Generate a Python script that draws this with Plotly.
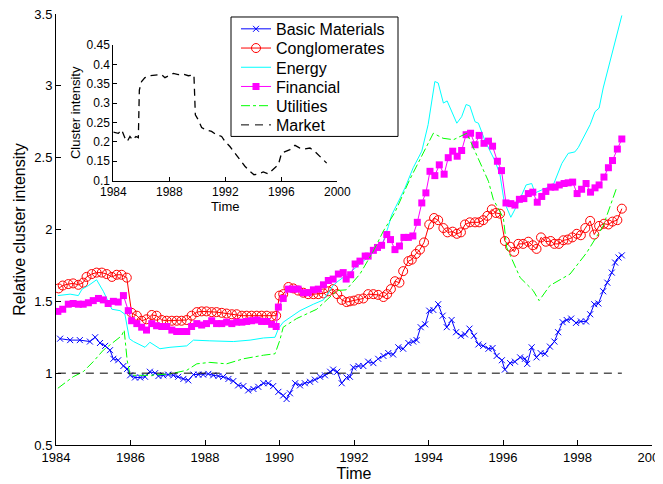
import plotly.graph_objects as go

# ---------------- data ----------------
basic_t = [1984.11, 1984.38, 1984.64, 1984.91, 1985.05, 1985.18, 1985.32, 1985.45, 1985.54, 1985.67,
           1985.81, 1985.91, 1985.99, 1986.12, 1986.26, 1986.39, 1986.52, 1986.66, 1986.75, 1986.88,
           1987.01, 1987.15, 1987.28, 1987.42, 1987.55, 1987.69, 1987.82, 1987.95, 1988.09, 1988.22,
           1988.36, 1988.49, 1988.63, 1988.76, 1988.89, 1989.03, 1989.16, 1989.30, 1989.43, 1989.57,
           1989.70, 1989.83, 1989.97, 1990.10, 1990.19, 1990.28, 1990.42, 1990.55, 1990.68, 1990.82,
           1990.95, 1991.09, 1991.22, 1991.36, 1991.44, 1991.55, 1991.67, 1991.80, 1991.89, 1991.98,
           1992.12, 1992.25, 1992.38, 1992.52, 1992.65, 1992.79, 1992.92, 1993.05, 1993.19, 1993.32,
           1993.46, 1993.59, 1993.68, 1993.79, 1993.91, 1994.02, 1994.13, 1994.26, 1994.38, 1994.49,
           1994.62, 1994.74, 1994.87, 1994.98, 1995.10, 1995.22, 1995.34, 1995.47, 1995.61, 1995.72,
           1995.83, 1995.97, 1996.05, 1996.19, 1996.32, 1996.46, 1996.59, 1996.65, 1996.77, 1996.90,
           1997.01, 1997.13, 1997.26, 1997.38, 1997.48, 1997.60, 1997.71, 1997.83, 1997.96, 1998.09,
           1998.23, 1998.34, 1998.45, 1998.56, 1998.69, 1998.80, 1998.92, 1999.01, 1999.10, 1999.19]
basic_v = [1.24, 1.23, 1.23, 1.22, 1.25, 1.21, 1.19, 1.16, 1.10, 1.09,
           1.05, 1.03, 0.985, 0.97, 0.97, 0.975, 1.01, 1.00, 0.98, 0.985,
           0.99, 0.985, 0.975, 0.96, 0.95, 0.99, 0.99, 0.99, 0.995, 0.985,
           0.98, 0.975, 0.96, 0.945, 0.915, 0.91, 0.88, 0.89, 0.905, 0.93,
           0.93, 0.91, 0.87, 0.845, 0.82, 0.86, 0.93, 0.915, 0.93, 0.94,
           0.955, 0.975, 0.985, 1.01, 1.025, 1.01, 0.93, 0.97, 0.975, 1.04,
           1.05, 1.05, 1.08, 1.07, 1.10, 1.12, 1.14, 1.13, 1.18, 1.17,
           1.21, 1.22, 1.23, 1.32, 1.34, 1.435, 1.44, 1.48, 1.40, 1.32,
           1.37, 1.285, 1.26, 1.27, 1.31, 1.26, 1.20, 1.19, 1.17, 1.175,
           1.12, 1.09, 1.025, 1.07, 1.08, 1.11, 1.10, 1.065, 1.18, 1.11,
           1.14, 1.135, 1.185, 1.22, 1.285, 1.355, 1.37, 1.38, 1.35, 1.36,
           1.36, 1.41, 1.48, 1.485, 1.57, 1.63, 1.70, 1.77, 1.805, 1.82]

congl_t = [1984.07, 1984.18, 1984.33, 1984.46, 1984.60, 1984.73, 1984.82, 1984.96, 1985.09, 1985.23,
           1985.36, 1985.50, 1985.63, 1985.76, 1985.90, 1986.03, 1986.17, 1986.30, 1986.43, 1986.57,
           1986.70, 1986.84, 1986.97, 1987.11, 1987.24, 1987.37, 1987.51, 1987.64, 1987.78, 1987.91,
           1988.04, 1988.18, 1988.31, 1988.45, 1988.58, 1988.72, 1988.85, 1988.99, 1989.12, 1989.25,
           1989.39, 1989.52, 1989.66, 1989.79, 1989.91, 1990.00, 1990.10, 1990.24, 1990.37, 1990.50,
           1990.64, 1990.77, 1990.91, 1991.04, 1991.18, 1991.31, 1991.44, 1991.55, 1991.67, 1991.80,
           1991.89, 1992.00, 1992.12, 1992.25, 1992.38, 1992.52, 1992.65, 1992.79, 1992.89, 1992.99,
           1993.10, 1993.22, 1993.32, 1993.46, 1993.55, 1993.66, 1993.77, 1993.88, 1994.02, 1994.15,
           1994.26, 1994.40, 1994.51, 1994.65, 1994.76, 1994.87, 1994.98, 1995.11, 1995.25, 1995.36,
           1995.47, 1995.58, 1995.70, 1995.81, 1995.92, 1996.05, 1996.19, 1996.30, 1996.41, 1996.54,
           1996.68, 1996.80, 1996.90, 1997.02, 1997.15, 1997.28, 1997.38, 1997.50, 1997.62, 1997.74,
           1997.86, 1997.98, 1998.09, 1998.21, 1998.34, 1998.45, 1998.58, 1998.71, 1998.83, 1998.94,
           1999.07, 1999.19]
congl_v = [1.59, 1.61, 1.62, 1.625, 1.615, 1.63, 1.67, 1.69, 1.70, 1.70,
           1.69, 1.67, 1.685, 1.685, 1.665, 1.42, 1.40, 1.365, 1.375, 1.405,
           1.40, 1.37, 1.365, 1.365, 1.365, 1.365, 1.37, 1.40, 1.425, 1.43,
           1.43, 1.425, 1.425, 1.42, 1.415, 1.41, 1.41, 1.40, 1.40, 1.40,
           1.40, 1.40, 1.40, 1.395, 1.40, 1.54, 1.55, 1.60, 1.59, 1.575,
           1.56, 1.55, 1.55, 1.55, 1.555, 1.57, 1.585, 1.55, 1.51, 1.495,
           1.50, 1.505, 1.515, 1.52, 1.55, 1.55, 1.545, 1.53, 1.55, 1.585,
           1.64, 1.63, 1.71, 1.78, 1.79, 1.83, 1.86, 1.91, 2.035, 2.08,
           2.065, 2.01, 1.98, 1.985, 1.97, 1.98, 2.035, 2.05, 2.05, 2.05,
           2.065, 2.095, 2.14, 2.115, 2.11, 1.92, 1.88, 1.845, 1.90, 1.90,
           1.915, 1.89, 1.865, 1.945, 1.915, 1.92, 1.90, 1.90, 1.925, 1.93,
           1.945, 1.97, 1.96, 2.01, 2.06, 1.965, 2.025, 2.04, 2.035, 2.055,
           2.065, 2.145]

energy_t = [1984.05, 1984.38, 1984.60, 1984.70, 1984.87, 1985.09, 1985.27, 1985.50, 1985.72, 1985.85,
            1985.97, 1986.08, 1986.39, 1986.52, 1986.79, 1987.06, 1987.51, 1987.69, 1988.13, 1988.49,
            1988.76, 1989.21, 1989.57, 1989.88, 1989.97, 1990.10, 1990.37, 1990.55, 1990.91, 1991.18,
            1991.44, 1991.57, 1991.89, 1992.16, 1992.48, 1992.75, 1992.92, 1993.01, 1993.24, 1993.37,
            1993.59, 1993.82, 1993.99, 1994.17, 1994.26, 1994.40, 1994.50, 1994.76, 1994.89, 1995.01,
            1995.11, 1995.25, 1995.34, 1995.52, 1995.79, 1995.92, 1996.03, 1996.21, 1996.41, 1996.62,
            1996.77, 1996.86, 1997.35, 1997.58, 1997.75, 1997.93, 1998.02, 1998.34, 1998.47, 1998.58,
            1998.69, 1998.87, 1999.05, 1999.19]
energy_v = [1.54, 1.55, 1.54, 1.585, 1.61, 1.65, 1.57, 1.445, 1.435, 1.41,
            1.24, 1.22, 1.18, 1.215, 1.17, 1.18, 1.19, 1.23, 1.225, 1.22,
            1.22, 1.23, 1.245, 1.25, 1.31, 1.355, 1.40, 1.435, 1.48, 1.51,
            1.61, 1.64, 1.70, 1.76, 1.83, 1.89, 2.02, 2.10, 2.22, 2.29,
            2.43, 2.545, 2.73, 3.03, 3.02, 2.88, 2.895, 2.74, 2.785, 2.87,
            2.86, 2.75, 2.74, 2.615, 2.475, 2.38, 2.195, 2.085, 2.185, 2.31,
            2.32, 2.255, 2.31, 2.46, 2.53, 2.54, 2.57, 2.73, 2.82, 2.845,
            2.985, 3.17, 3.34, 3.49]

fin_t = [1984.05, 1984.18, 1984.33, 1984.46, 1984.60, 1984.73, 1984.87, 1985.00, 1985.14, 1985.27,
         1985.40, 1985.54, 1985.67, 1985.81, 1985.94, 1986.03, 1986.17, 1986.30, 1986.43, 1986.57,
         1986.70, 1986.84, 1986.97, 1987.11, 1987.24, 1987.37, 1987.51, 1987.64, 1987.78, 1987.91,
         1988.04, 1988.18, 1988.31, 1988.45, 1988.58, 1988.72, 1988.85, 1988.99, 1989.12, 1989.25,
         1989.39, 1989.52, 1989.66, 1989.79, 1989.91, 1989.97, 1990.10, 1990.24, 1990.37, 1990.50,
         1990.64, 1990.77, 1990.91, 1991.04, 1991.18, 1991.31, 1991.44, 1991.58, 1991.71, 1991.79,
         1991.91, 1992.03, 1992.16, 1992.30, 1992.38, 1992.52, 1992.63, 1992.74, 1992.88, 1992.98,
         1993.10, 1993.22, 1993.34, 1993.46, 1993.58, 1993.70, 1993.82, 1993.93, 1994.04, 1994.17,
         1994.29, 1994.42, 1994.53, 1994.65, 1994.77, 1994.89, 1995.01, 1995.13, 1995.25, 1995.36,
         1995.49, 1995.61, 1995.72, 1995.85, 1995.96, 1996.08, 1996.21, 1996.32, 1996.44, 1996.56,
         1996.68, 1996.80, 1996.92, 1997.04, 1997.15, 1997.28, 1997.40, 1997.51, 1997.64, 1997.75,
         1997.87, 1997.99, 1998.11, 1998.23, 1998.35, 1998.47, 1998.58, 1998.71, 1998.83, 1998.94,
         1999.07, 1999.19]
fin_v = [1.43, 1.445, 1.48, 1.485, 1.48, 1.48, 1.49, 1.505, 1.52, 1.51,
         1.485, 1.50, 1.495, 1.54, 1.435, 1.365, 1.345, 1.32, 1.30, 1.345,
         1.33, 1.325, 1.325, 1.30, 1.29, 1.29, 1.29, 1.325, 1.345, 1.335,
         1.345, 1.365, 1.345, 1.345, 1.355, 1.345, 1.355, 1.355, 1.36, 1.365,
         1.37, 1.36, 1.36, 1.34, 1.325, 1.46, 1.52, 1.585, 1.585, 1.585,
         1.56, 1.56, 1.58, 1.585, 1.615, 1.645, 1.655, 1.69, 1.70, 1.655,
         1.685, 1.76, 1.78, 1.815, 1.815, 1.855, 1.875, 1.89, 1.965, 1.93,
         1.86, 1.885, 1.945, 1.945, 1.955, 2.05, 2.185, 2.255, 2.405, 2.375,
         2.45, 2.385, 2.50, 2.545, 2.51, 2.55, 2.66, 2.67, 2.59, 2.655,
         2.60, 2.615, 2.58, 2.475, 2.41, 2.185, 2.18, 2.17, 2.21, 2.215,
         2.25, 2.26, 2.19, 2.23, 2.265, 2.295, 2.295, 2.31, 2.32, 2.325,
         2.33, 2.25, 2.28, 2.32, 2.26, 2.29, 2.31, 2.365, 2.43, 2.48,
         2.56, 2.63]

util_t = [1984.05, 1984.46, 1984.73, 1985.00, 1985.27, 1985.50, 1985.76, 1985.83, 1985.91, 1985.99,
          1986.52, 1987.06, 1987.51, 1987.78, 1988.13, 1988.58, 1989.03, 1989.57, 1989.88, 1990.01,
          1990.10, 1990.46, 1991.00, 1991.54, 1991.79, 1992.16, 1992.52, 1992.79, 1993.10, 1993.50,
          1993.82, 1994.13, 1994.39, 1994.67, 1995.03, 1995.29, 1995.61, 1995.74, 1996.01, 1996.10,
          1996.46, 1996.81, 1996.97, 1997.26, 1997.80, 1998.25, 1998.69, 1999.05]
util_v = [0.895, 0.975, 1.01, 1.08, 1.16, 1.205, 1.26, 1.30, 1.09, 0.985,
          0.985, 0.995, 1.02, 1.065, 1.075, 1.065, 1.10, 1.125, 1.135, 1.23,
          1.32, 1.38, 1.445, 1.575, 1.58, 1.69, 1.85, 1.99, 2.12, 2.35,
          2.51, 2.67, 2.635, 2.625, 2.67, 2.52, 2.335, 2.21, 2.08, 1.875,
          1.665, 1.575, 1.505, 1.61, 1.69, 1.84, 2.025, 2.29]

market_t = [1984.05, 1999.19]
market_v = [1.0, 1.0]

inset_t = [1984.0, 1984.36, 1984.6, 1984.83, 1985.0, 1985.19, 1985.38, 1985.62, 1985.79, 1985.86,
           1986.02, 1986.26, 1986.62, 1987.1, 1987.45, 1987.69, 1987.93, 1988.29, 1988.64, 1989.0,
           1989.36, 1989.6, 1989.76, 1989.86, 1990.07, 1990.31, 1990.62, 1991.02, 1991.38, 1991.74,
           1991.98, 1992.33, 1992.69, 1993.05, 1993.4, 1993.76, 1994.05, 1994.36, 1994.71, 1995.07,
           1995.43, 1995.79, 1996.02, 1996.26, 1996.62, 1996.98, 1997.33, 1997.69, 1998.05, 1998.4,
           1998.76, 1999.24]
inset_v = [0.225, 0.222, 0.231, 0.21, 0.201, 0.214, 0.205, 0.214, 0.211, 0.334,
           0.356, 0.366, 0.371, 0.373, 0.374, 0.366, 0.371, 0.377, 0.374, 0.375,
           0.371, 0.373, 0.373, 0.27, 0.257, 0.237, 0.231, 0.227, 0.218, 0.214,
           0.201, 0.188, 0.171, 0.154, 0.137, 0.124, 0.115, 0.117, 0.122, 0.117,
           0.128, 0.141, 0.171, 0.175, 0.18, 0.191, 0.184, 0.182, 0.184, 0.175,
           0.163, 0.145]

series_names = ["Basic Materials", "Conglomerates", "Energy", "Financial", "Utilities", "Market"]

main_xticks = [1984, 1986, 1988, 1990, 1992, 1994, 1996, 1998, 2000]
main_yticks = [0.5, 1, 1.5, 2, 2.5, 3, 3.5]
inset_xticks = [1984, 1988, 1992, 1996, 2000]
inset_yticks = [0.1, 0.15, 0.2, 0.25, 0.3, 0.35, 0.4, 0.45]

FONT = "Liberation Sans, Arial, sans-serif"
legend_ids = ["legend", "legend2", "legend3", "legend4", "legend5", "legend6"]

fig = go.Figure()
fig.add_trace(go.Scatter(x=basic_t, y=basic_v, name=series_names[0], mode="lines+markers",
                         legend=legend_ids[0],
                         line=dict(color="#0000ff", width=1),
                         marker=dict(symbol="x-thin-open", size=6, color="#0000ff",
                                     line=dict(color="#0000ff", width=1))))
fig.add_trace(go.Scatter(x=congl_t, y=congl_v, name=series_names[1], mode="lines+markers",
                         legend=legend_ids[1],
                         line=dict(color="#ff0000", width=1),
                         marker=dict(symbol="circle-open", size=9, color="#ff0000",
                                     line=dict(color="#ff0000", width=1))))
fig.add_trace(go.Scatter(x=energy_t, y=energy_v, name=series_names[2], mode="lines",
                         legend=legend_ids[2],
                         line=dict(color="#00ffff", width=1)))
fig.add_trace(go.Scatter(x=fin_t, y=fin_v, name=series_names[3], mode="lines+markers",
                         legend=legend_ids[3],
                         line=dict(color="#ff00ff", width=1),
                         marker=dict(symbol="square", size=7, color="#ff00ff")))
fig.add_trace(go.Scatter(x=util_t, y=util_v, name=series_names[4], mode="lines",
                         legend=legend_ids[4],
                         line=dict(color="#00ff00", width=1, dash="dashdot")))
fig.add_trace(go.Scatter(x=market_t, y=market_v, name=series_names[5], mode="lines",
                         legend=legend_ids[5],
                         line=dict(color="black", width=1, dash="8px,6px")))
fig.add_trace(go.Scatter(x=inset_t, y=inset_v, mode="lines", showlegend=False,
                         xaxis="x2", yaxis="y2",
                         line=dict(color="black", width=1.3, dash="7px,5px")))

def axis_style(size):
    return dict(showline=True, linecolor="black", linewidth=1, ticks="inside",
                tickcolor="black", showgrid=False, zeroline=False, mirror=False,
                automargin=False, ticklabeloverflow="allow",
                tickfont=dict(family=FONT, size=size, color="black"))

# The page body adds an 8px offset; all target positions below are page pixels.
OFF = 8
W, H = 663 - OFF, 484 - OFF
PL, PR, PT, PB = 56, 652, 12, 445        # plot area in page pixels
L, T = PL - OFF, PT - OFF
R, B = W - (PR - OFF), H - (PB - OFF)
pw, ph = PR - PL, PB - PT

def px(xpix):
    return (xpix - PL) / pw

def py(ypix):
    return (PB - ypix) / ph

layout_legends = {}
row_centres = [27, 46.3, 65.6, 84.9, 104.2, 123.5]
for lid, yc in zip(legend_ids, row_centres):
    layout_legends[lid] = dict(x=px(236), y=py(yc), xanchor="left", yanchor="middle",
                               bgcolor="rgba(0,0,0,0)", borderwidth=0,
                               font=dict(family=FONT, size=16, color="black"),
                               itemwidth=30)

fig.update_layout(
    width=W, height=H,
    margin=dict(l=L, r=R, t=T, b=B),
    paper_bgcolor="white", plot_bgcolor="white",
    font=dict(family=FONT, size=13, color="black"),
    xaxis=dict(range=[1984, 2000], tickvals=main_xticks, ticklen=5,
               title=dict(text="Time", font=dict(size=16), standoff=0), **axis_style(13)),
    yaxis=dict(range=[0.5, 3.5], tickvals=main_yticks, ticklen=5,
               title=dict(text="Relative cluster intensity", font=dict(size=16), standoff=4),
               **axis_style(13)),
    xaxis2=dict(domain=[px(113.3), px(337.3)], anchor="y2", range=[1984, 2000],
                tickvals=inset_xticks, ticklen=4,
                title=dict(text="Time", font=dict(size=13), standoff=0), **axis_style(12)),
    yaxis2=dict(domain=[py(179.3), py(43.3)], anchor="x2", range=[0.1, 0.45],
                tickvals=inset_yticks, ticklen=4,
                title=dict(text="Cluster intensity", font=dict(size=13), standoff=2),
                **axis_style(12)),
    shapes=[dict(type="rect", xref="paper", yref="paper",
                 x0=px(231), x1=px(398), y0=py(135), y1=py(15),
                 line=dict(color="black", width=1), fillcolor="white", layer="above")],
    showlegend=True,
    **layout_legends,
)

fig.write_html("out.html")
